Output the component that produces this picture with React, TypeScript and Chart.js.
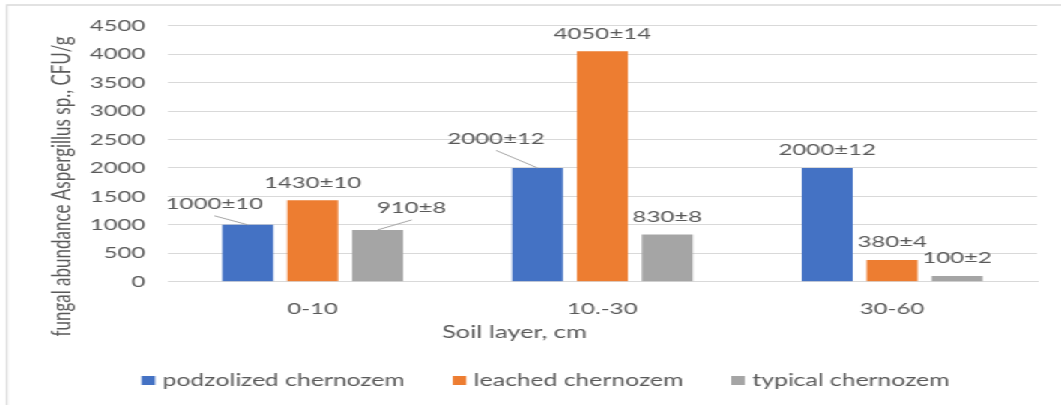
import { useEffect, useRef } from "react";
import { Chart, registerables } from "chart.js";

Chart.register(...registerables);

// ---------- data ----------
const categories = ["0-10", "10.-30", "30-60"];
const seriesNames = ["podzolized chernozem", "leached chernozem", "typical chernozem"];
const podzolized = [1000, 2000, 2000];
const leached = [1430, 4050, 380];
const typical = [910, 830, 100];
const podzolizedErr = [10, 12, 12];
const leachedErr = [10, 14, 4];
const typicalErr = [8, 8, 2];
const yMin = 0;
const yMax = 4500;
const yStep = 500;
const yTitle = "fungal abundance Aspergillus sp., CFU/g";
const xTitle = "Soil layer, cm";

// ---------- styling ----------
const colors = ["#4472C4", "#ED7D31", "#A5A5A5"];
const textColor = "#595959";
const gridColor = "#D9D9D9";
const FONT = "Lato";
const W = 708;
const H = 405;
const SX = 1061 / W;

// label offsets relative to bar top centre (logical px): [dx, dy, leader]
const labelOffsets: [number, number, boolean][][] = [
  [[-22.3, -21, true], [-27.7, -29.5, true], [0, -18, false]],
  [[0, -17.5, false], [0, -17.5, false], [0, -18, false]],
  [[22.7, -22, true], [0, -18, false], [0, -18, false]],
];

const values = [podzolized, leached, typical];
const errors = [podzolizedErr, leachedErr, typicalErr];

const decor = {
  id: "decor",
  afterDatasetsDraw(chart: any) {
    const ctx = chart.ctx;
    ctx.save();
    ctx.font = `16px ${FONT}`;
    ctx.fillStyle = textColor;
    ctx.textAlign = "center";
    ctx.textBaseline = "middle";
    values.forEach((vals, i) => {
      const meta = chart.getDatasetMeta(i);
      vals.forEach((v, j) => {
        const bar = meta.data[j];
        const [dx, dy, leader] = labelOffsets[i][j];
        const lx = bar.x + dx;
        const ly = bar.y + dy;
        ctx.fillText(`${v}±${errors[i][j]}`, lx, ly);
        if (leader) {
          ctx.strokeStyle = "#A6A6A6";
          ctx.lineWidth = 1;
          ctx.beginPath();
          ctx.moveTo(lx, ly + 12);
          ctx.lineTo(bar.x, bar.y);
          ctx.stroke();
        }
      });
    });
    ctx.restore();
  },
  afterDraw(chart: any) {
    const ctx = chart.ctx;
    ctx.save();
    // frame
    ctx.strokeStyle = gridColor;
    ctx.lineWidth = 1.3;
    ctx.beginPath();
    ctx.moveTo(4.6, H);
    ctx.lineTo(4.6, 5);
    ctx.lineTo(W, 5);
    ctx.stroke();

    ctx.fillStyle = textColor;
    // y title
    ctx.font = `17px ${FONT}`;
    ctx.save();
    ctx.translate(41.3, 186.5);
    ctx.rotate(-Math.PI / 2);
    ctx.textAlign = "center";
    ctx.textBaseline = "middle";
    ctx.fillText(yTitle, 0, 0);
    ctx.restore();

    // x title
    ctx.textAlign = "center";
    ctx.textBaseline = "middle";
    ctx.font = `17px ${FONT}`;
    ctx.fillText(xTitle, 343.3, 333);

    // legend
    ctx.font = `16.5px ${FONT}`;
    ctx.textAlign = "left";
    let x = 94.5;
    seriesNames.forEach((name, i) => {
      ctx.fillStyle = colors[i];
      ctx.fillRect(x, 376, 9, 9);
      ctx.fillStyle = textColor;
      ctx.fillText(name, x + 14, 380.5);
      x += 14 + ctx.measureText(name).width + 32;
    });
    ctx.restore();
  },
};

export default function App() {
  const ref = useRef<HTMLCanvasElement>(null);
  useEffect(() => {
    document.body.style.margin = "0";
    const chart = new Chart(ref.current!, {
      type: "bar",
      data: {
        labels: categories,
        datasets: seriesNames.map((name, i) => ({
          label: name,
          data: values[i],
          backgroundColor: colors[i],
          borderWidth: 0,
          categoryPercentage: 0.672,
          barPercentage: 0.785,
        })),
      },
      options: {
        responsive: false,
        animation: false,
        layout: { padding: { left: 0, right: 16, top: 25.7, bottom: 0 } },
        plugins: {
          legend: { display: false },
          tooltip: { enabled: false },
        },
        scales: {
          x: {
            grid: { display: false },
            border: { color: gridColor, width: 1 },
            ticks: { color: textColor, font: { family: FONT, size: 16 }, padding: 10 },
            afterFit: (s: any) => {
              s.height = 123.3;
            },
          },
          y: {
            min: yMin,
            max: yMax,
            ticks: {
              stepSize: yStep,
              color: textColor,
              font: { family: FONT, size: 16 },
              padding: 15,
              callback: (v: any) => String(v),
            },
            grid: { color: gridColor, drawTicks: false },
            border: { display: false },
            afterFit: (s: any) => {
              s.width = 112;
            },
          },
        },
      },
      plugins: [decor],
    });
    return () => chart.destroy();
  }, []);
  return (
    <div
      style={{
        position: "fixed",
        left: 0,
        top: 0,
        width: W,
        height: H,
        transform: `scaleX(${SX})`,
        transformOrigin: "0 0",
        background: "#fff",
      }}
    >
      <canvas ref={ref} width={W} height={H} style={{ display: "block" }} />
    </div>
  );
}
